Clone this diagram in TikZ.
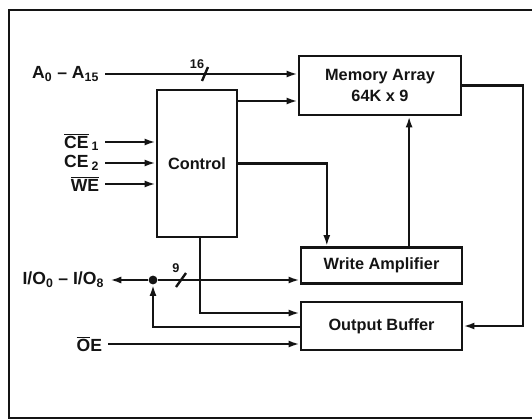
\documentclass[tikz,border=0pt]{standalone}
\usepackage{fontspec}
\setmainfont{Liberation Sans}
\usepackage{tikz}
\usetikzlibrary{arrows.meta,positioning}
\definecolor{ramink}{RGB}{20,20,20}

\begin{document}
\begin{tikzpicture}[
  x=0.025cm, y=-0.025cm,
  font=\fontsize{11.6}{15.5}\selectfont\bfseries,
  arrow/.style={-{Latex[length=8pt,width=5pt]}, line width=1.7pt, draw=ramink},
  wire/.style={line width=1.7pt, draw=ramink},
  box/.style={rectangle, draw=ramink, line width=1.7pt, align=center,
              inner sep=0pt, text=ramink},
  pin/.style={anchor=east, inner xsep=4pt, inner ysep=1pt, text=ramink,
              font=\fontsize{12.5}{15}\selectfont\bfseries},
  bus/.style={font=\fontsize{9}{10}\selectfont\bfseries, text=ramink, inner sep=1pt},
  junction/.style={circle, fill=ramink, inner sep=0pt, minimum size=0.22cm}
]
\useasboundingbox (0,0) rectangle (532,420);

% --- Frame ---
\draw[wire] (532,10) -- (9,10) -- (9,418) -- (532,418);

% --- Blocks ---
\node[box, minimum width=4.05cm, minimum height=1.475cm] (mem) at (380,85.5) {%
Memory Array\\64K x 9};
\node[box, minimum width=2cm, minimum height=3.675cm] (ctrl) at (197,163.5) {Control};
\node[box, minimum width=4.025cm, minimum height=0.9cm] (wamp) at (381.5,265.5) {Write Amplifier};
\node[box, minimum width=4.025cm, minimum height=1.2cm] (obuf) at (381.5,326) {Output Buffer};

% --- Pins ---
\node[pin] (addr) at (105,74) {A\textsubscript{0} – A\textsubscript{15}};
\node[pin] (ce1) at (105,142) {$\overline{\mbox{CE}}$\,\textsubscript{1}};
\node[pin] (ce2) at (105,163) {CE\,\textsubscript{2}};
\node[pin] (we) at (105,184) {$\overline{\mbox{WE}}$};
\node[pin] (io) at (110,280) {I/O\textsubscript{0} – I/O\textsubscript{8}};
\node[pin] (oe) at (108,344) {$\overline{\mbox{O}}$E};
\node[junction] (dot) at (153,280) {};

% --- Address bus ---
\draw[arrow] (addr.east) -- (addr.east -| mem.west);
\coordinate (s16) at (205,74);
\draw[wire] ([shift={(-3,7)}]s16) -- ([shift={(3,-7)}]s16);
\node[bus] (n16) at (197,64) {16};

% --- Control inputs ---
\draw[arrow] (ce1.east) -- (ce1.east -| ctrl.west);
\draw[arrow] (ce2.east) -- (ce2.east -| ctrl.west);
\draw[arrow] (we.east)  -- (we.east -| ctrl.west);

% --- Control outputs ---
\draw[arrow] (ctrl.east |- 0,101) -- (mem.west |- 0,101);
\draw[arrow] (ctrl.east) -| ([xshift=0.675cm]wamp.north west);
\draw[arrow] ([xshift=0.075cm]ctrl.south) |- ([yshift=0.325cm]obuf.west);

% --- Data path ---
\draw[arrow] ([xshift=0.69cm]wamp.north) -- ([xshift=0.69cm]wamp.north |- mem.south);
\draw[arrow] (mem.east) -- ++(61,0) |- (obuf.east);
\draw[arrow] (dot) -- (io.east);
\draw[arrow] (dot) -- (dot -| wamp.west);
\coordinate (s9) at (181,280);
\draw[wire] ([shift={(-5,7)}]s9) -- ([shift={(5,-7)}]s9);
\node[bus] (n9) at (176,268) {9};
\draw[arrow] ([yshift=-0.025cm]obuf.west) -| (dot);
\draw[arrow] (oe.east) -- (oe.east -| obuf.west);

\end{tikzpicture}
\end{document}
